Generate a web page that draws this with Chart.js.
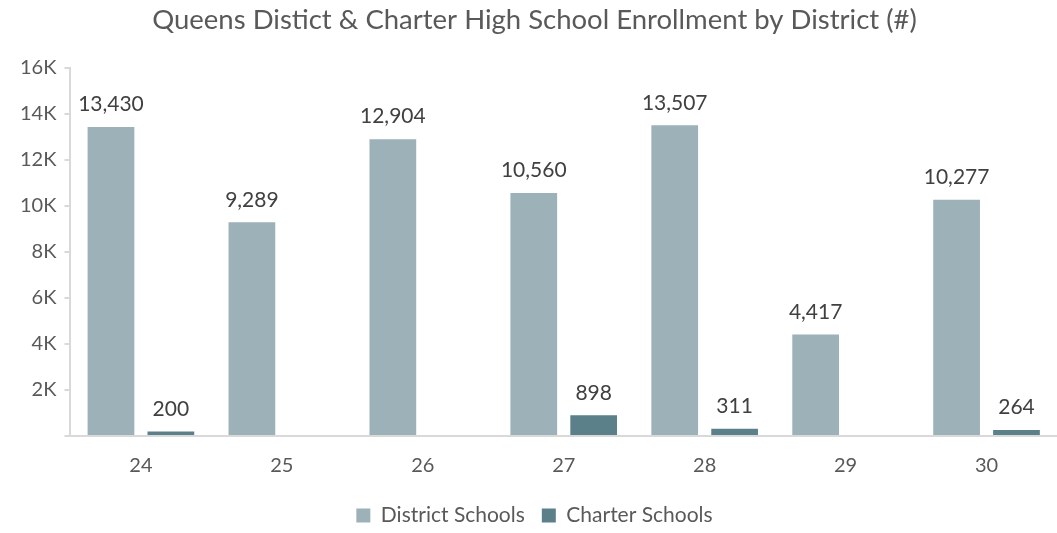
<!DOCTYPE html>
<html>
<head>
<meta charset="utf-8">
<script src="https://cdn.jsdelivr.net/npm/chart.js@4/dist/chart.umd.min.js"></script>
<style>
  html, body { margin: 0; padding: 0; background: #fff; }
  #wrap { width: 1057px; height: 533px; position: relative; }
</style>
</head>
<body>
<div id="wrap"><canvas id="grafico"></canvas></div>
<script>
const distritos = ["24", "25", "26", "27", "28", "29", "30"];
const escuelasDistrito = [13430, 9289, 12904, 10560, 13507, 4417, 10277];
const escuelasCharter = [200, null, null, 898, 311, null, 264];

const fuente = "Lato, 'Open Sans', sans-serif";

// etiquetas encima de cada barra
const etiquetas = {
  id: "etiquetas",
  afterDatasetsDraw(chart) {
    const ctx = chart.ctx;
    ctx.save();
    ctx.font = "21px " + fuente;
    ctx.fillStyle = "#404040";
    ctx.textAlign = "center";
    ctx.textBaseline = "bottom";
    chart.data.datasets.forEach((ds, i) => {
      const meta = chart.getDatasetMeta(i);
      meta.data.forEach((bar, j) => {
        const v = ds.data[j];
        if (v === null || v === undefined) return;
        ctx.fillText(v.toLocaleString("en-US"), bar.x, bar.y - 12);
      });
    });
    ctx.restore();
  }
};

new Chart(document.getElementById("grafico").getContext("2d"), {
  type: "bar",
  data: {
    labels: distritos,
    datasets: [
      {
        label: "District Schools",
        data: escuelasDistrito,
        backgroundColor: "#9DB1B8",
        categoryPercentage: 0.85,
        barPercentage: 0.78
      },
      {
        label: "Charter Schools",
        data: escuelasCharter,
        backgroundColor: "#5B808A",
        categoryPercentage: 0.85,
        barPercentage: 0.78
      }
    ]
  },
  options: {
    responsive: true,
    maintainAspectRatio: false,
    animation: false,
    layout: { padding: { top: 0, right: 0, left: 12, bottom: -3 } },
    scales: {
      x: {
        grid: { display: false },
        border: { color: "#d9d9d9", width: 2 },
        ticks: { color: "#595959", font: { family: fuente, size: 20 }, padding: 10 }
      },
      y: {
        min: 0,
        max: 16000,
        grid: { drawOnChartArea: false, drawTicks: true, tickLength: 6, color: "#d9d9d9", lineWidth: 2 },
        border: { color: "#d9d9d9", width: 2 },
        ticks: {
          stepSize: 2000,
          color: "#595959",
          font: { family: fuente, size: 20 },
          padding: 8,
          callback: v => v === 0 ? "" : (v / 1000) + "K"
        }
      }
    },
    plugins: {
      title: {
        display: true,
        text: "Queens Distict & Charter High School Enrollment by District (#)",
        color: "#595959",
        font: { family: fuente, size: 27.5, weight: "normal" },
        padding: { top: 4, bottom: 31 }
      },
      legend: {
        position: "bottom",
        labels: {
          color: "#595959",
          font: { family: fuente, size: 21 },
          boxWidth: 14,
          boxHeight: 14,
          padding: 17
        }
      },
      tooltip: { enabled: false }
    }
  },
  plugins: [etiquetas]
});
</script>
</body>
</html>
